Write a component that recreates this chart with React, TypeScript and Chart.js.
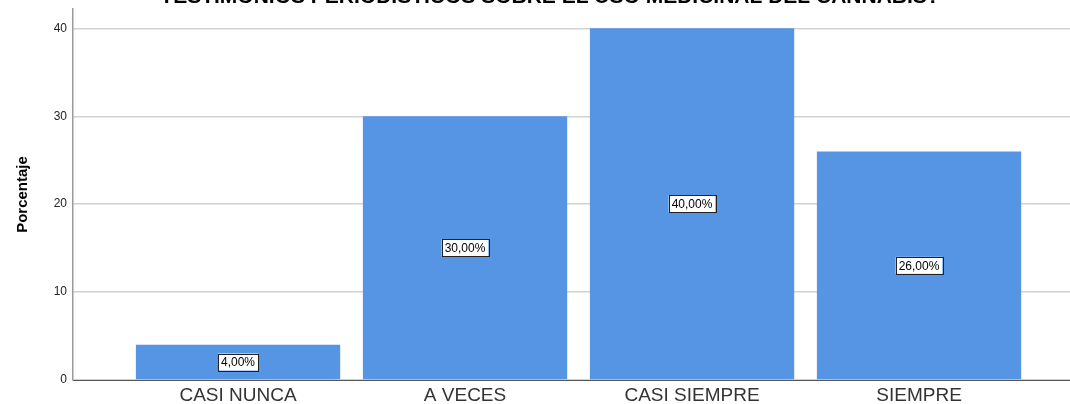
import React, { useEffect, useRef } from "react";
import { Chart, registerables } from "chart.js";

Chart.register(...registerables);

const chartTitle = "TESTIMONIOS PERIODÍSTICOS SOBRE EL USO MEDICINAL DEL CANNABIS?";
const categories = ["CASI NUNCA", "A VECES", "CASI SIEMPRE", "SIEMPRE"];
const percentages = [4, 30, 40, 26];
const yTicks = [0, 10, 20, 30, 40];
const yAxisTitle = "Porcentaje";

const FONT = "'Liberation Sans', Arial, sans-serif";

const titlePlugin = {
  id: "cutTitle",
  afterDraw(chart: any) {
    const ctx = chart.ctx;
    ctx.save();
    ctx.font = `bold 21px ${FONT}`;
    ctx.fillStyle = "#000";
    ctx.textAlign = "center";
    ctx.textBaseline = "alphabetic";
    ctx.fillText(chartTitle, chart.width / 2 + 15, 3);
    ctx.restore();
  },
};

const valueLabelPlugin = {
  id: "valueLabels",
  afterDatasetsDraw(chart: any) {
    const ctx = chart.ctx;
    const meta = chart.getDatasetMeta(0);
    ctx.save();
    ctx.font = `12px ${FONT}`;
    ctx.textAlign = "center";
    ctx.textBaseline = "middle";
    meta.data.forEach((bar: any, i: number) => {
      const v = percentages[i];
      const text = v.toFixed(2).replace(".", ",") + "%";
      const cx = bar.x;
      const cy = (bar.y + bar.base) / 2;
      const w = ctx.measureText(text).width + 6;
      const h = 17;
      ctx.fillStyle = "#ffffff";
      ctx.fillRect(cx - w / 2, cy - h / 2, w, h);
      ctx.strokeStyle = "#222";
      ctx.lineWidth = 1;
      ctx.strokeRect(Math.round(cx - w / 2) + 0.5, Math.round(cy - h / 2) + 0.5, Math.round(w), h);
      ctx.fillStyle = "#000";
      ctx.fillText(text, cx, cy + 1);
    });
    ctx.restore();
  },
};

export default function App() {
  const canvasRef = useRef<HTMLCanvasElement | null>(null);

  useEffect(() => {
    if (!canvasRef.current) return;
    const chart = new Chart(canvasRef.current, {
      type: "bar",
      data: {
        datasets: [
          {
            label: yAxisTitle,
            data: percentages.map((v, i) => ({ x: i, y: v })),
            backgroundColor: "#5695e4",
            borderWidth: 0,
            barPercentage: 0.9,
            categoryPercentage: 1,
          },
        ],
      },
      options: {
        animation: false,
        responsive: true,
        maintainAspectRatio: false,
        layout: { padding: { top: 9, left: 0, right: 0, bottom: 0 } },
        plugins: {
          legend: { display: false },
          tooltip: { enabled: false },
          title: { display: false },
        },
        scales: {
          x: {
            type: "linear",
            offset: false,
            min: -0.727,
            max: 3.665,
            grid: { display: false, drawTicks: false, offset: false },
            border: { display: true, color: "#555", width: 1 },
            afterFit: (s: any) => {
              s.height = 24;
            },
            afterBuildTicks: (s: any) => {
              s.ticks = categories.map((_, i) => ({ value: i }));
            },
            ticks: {
              autoSkip: false,
              maxRotation: 0,
              padding: 4,
              color: "#333",
              font: { family: FONT, size: 19 },
              callback: (v: any) => categories[v] ?? "",
            },
          },
          y: {
            min: 0,
            max: 42.2,
            grid: { color: "#d2d2d2", lineWidth: 1.5, drawTicks: false },
            border: { display: true, color: "#9a9a9a", width: 1.5 },
            afterFit: (s: any) => {
              s.width = 73;
              s.paddingTop = 0;
              s.paddingBottom = 0;
            },
            afterBuildTicks: (s: any) => {
              s.ticks = yTicks.map((v) => ({ value: v }));
            },
            ticks: {
              padding: 6,
              color: "#222",
              font: { family: FONT, size: 12, lineHeight: 0.8 },
            },
            title: {
              display: true,
              text: yAxisTitle,
              color: "#000",
              font: { family: FONT, size: 15, weight: "bold" },
              padding: { top: 14, bottom: 0 },
            },
          },
        },
      },
      plugins: [titlePlugin, valueLabelPlugin],
    });
    return () => chart.destroy();
  }, []);

  return (
    <div
      style={{
        position: "fixed",
        left: 0,
        top: 0,
        width: "1070px",
        height: "404px",
        background: "#fff",
      }}
    >
      <canvas ref={canvasRef} />
    </div>
  );
}
